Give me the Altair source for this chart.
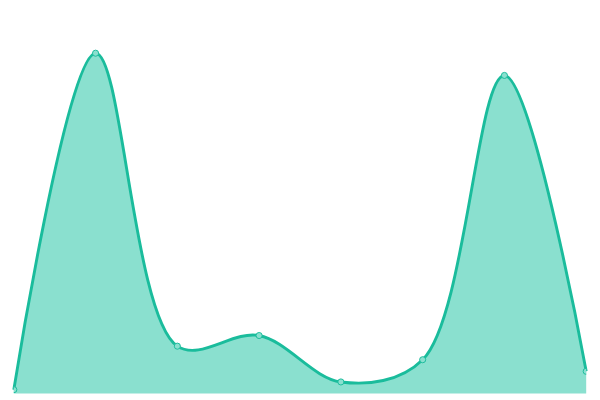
import altair as alt
import pandas as pd

xs = [0, 1, 2, 3, 4, 5, 6, 7]
values = [4, 352, 49, 60, 12, 35, 329, 23]

df = pd.DataFrame({"x": xs, "v": values})

LINE = "#1abc9c"
FILL = "#8ae0cf"

x_enc = alt.X("x:Q", axis=None, scale=alt.Scale(domain=[0, 7], nice=False, zero=False))
y_enc = alt.Y("v:Q", axis=None, scale=alt.Scale(domain=[0, 392], nice=False))

base = alt.Chart(df).encode(x=x_enc, y=y_enc)

area = base.mark_area(interpolate="catmull-rom", color=FILL, opacity=1)
line = base.mark_line(interpolate="catmull-rom", color=LINE, strokeWidth=3)
pts = base.mark_point(filled=True, fill=FILL, stroke=LINE, strokeWidth=1, size=40, opacity=1, clip=True)

chart = alt.layer(area, line, pts).properties(
    width=592, height=392, padding=0
).configure_view(stroke=None)

chart.save("out.html", embed_options={"renderer": "svg", "actions": False})
